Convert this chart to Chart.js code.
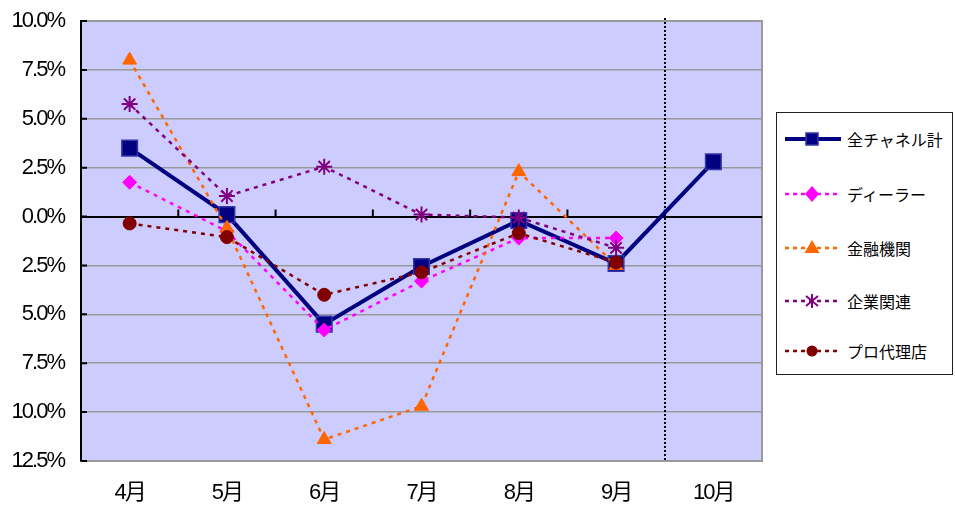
<!DOCTYPE html>
<html lang="ja">
  <head>
    <meta charset="UTF-8" />
    <title>チャネル別推移</title>
    <script src="https://cdn.jsdelivr.net/npm/chart.js"></script>
    <style>
      body {
        margin: 0;
        background: #fff;
        font-family: "Liberation Sans", Arial, "Noto Sans CJK JP", sans-serif;
      }
      .wrap {
        position: relative;
        width: 955px;
        height: 510px;
      }
      .legend {
        position: absolute;
        left: 776px;
        top: 112px;
        width: 175px;
        height: 261px;
        border: 1.5px solid #222;
        background: #fff;
      }
      .legend .item {
        position: absolute;
        left: 7px;
        height: 22px;
        display: flex;
        align-items: center;
        font-size: 16px;
        color: #000;
        white-space: nowrap;
      }
      .legend svg {
        margin-right: 5px;
      }
    </style>
  </head>
  <body>
    <div class="wrap">
      <canvas id="chart"></canvas>
      <div class="legend" id="legend"></div>
    </div>

    <script>
      // 月
      const months = ["4月", "5月", "6月", "7月", "8月", "9月", "10月"];

      // 前年比 (%)
      const total = [3.5, 0.1, -5.5, -2.55, -0.2, -2.4, 2.8];
      const dealer = [1.75, -0.75, -5.8, -3.3, -1.1, -1.1, null];
      const finance = [8.0, -0.6, -11.4, -9.7, 2.3, -2.5, null];
      const corporate = [5.75, 1.05, 2.55, 0.1, -0.05, -1.6, null];
      const agency = [-0.35, -1.05, -4.0, -2.85, -0.85, -2.35, null];

      const seriesNames = ["全チャネル計", "ディーラー", "金融機関", "企業関連", "プロ代理店"];

      // y軸の目盛
      const yMin = -12.5;
      const yMax = 10;
      const yStep = 2.5;

      const dots = [4, 5];

      const datasets = [
        {
          label: seriesNames[0],
          data: total,
          borderColor: "#000080",
          borderWidth: 4,
          pointStyle: "rect",
          pointRadius: 11,
          pointBackgroundColor: "#000080",
          pointBorderColor: "#3535aa",
          pointBorderWidth: 1.5,
          order: 5,
        },
        {
          label: seriesNames[1],
          data: dealer,
          borderColor: "#ff00ff",
          borderWidth: 2.5,
          borderDash: dots,
          pointStyle: "rectRot",
          pointRadius: 7,
          pointBackgroundColor: "#ff00ff",
          pointBorderColor: "#ff00ff",
          pointBorderWidth: 1,
          order: 4,
        },
        {
          label: seriesNames[2],
          data: finance,
          borderColor: "#ff6600",
          borderWidth: 2.5,
          borderDash: dots,
          pointStyle: "triangle",
          pointRadius: 8,
          pointBackgroundColor: "#ff6600",
          pointBorderColor: "#ff6600",
          pointBorderWidth: 1,
          order: 3,
        },
        {
          label: seriesNames[3],
          data: corporate,
          borderColor: "#800080",
          borderWidth: 2.5,
          borderDash: dots,
          pointStyle: "star",
          pointRadius: 8,
          pointBackgroundColor: "#800080",
          pointBorderColor: "#800080",
          pointBorderWidth: 2,
          order: 2,
        },
        {
          label: seriesNames[4],
          data: agency,
          borderColor: "#800000",
          borderWidth: 2.5,
          borderDash: dots,
          pointStyle: "circle",
          pointRadius: 6.5,
          pointBackgroundColor: "#800000",
          pointBorderColor: "#800000",
          pointBorderWidth: 1,
          order: 1,
        },
      ];

      // 背景・内側目盛・区切り線
      const plotDecor = {
        id: "plotDecor",
        beforeDraw(chart) {
          const { ctx, chartArea: a } = chart;
          ctx.save();
          ctx.fillStyle = "#ccccff";
          ctx.fillRect(a.left, a.top, a.right - a.left, a.bottom - a.top);
          ctx.strokeStyle = "#999";
          ctx.lineWidth = 2;
          ctx.strokeRect(a.left, a.top, a.right - a.left, a.bottom - a.top);
          ctx.restore();
          ctx.letterSpacing = "-2px";
        },
        beforeDatasetsDraw(chart) {
          const { ctx, chartArea: a } = chart;
          const x = chart.scales.x;
          const y = chart.scales.y;
          const y0 = y.getPixelForValue(0);
          ctx.save();
          ctx.strokeStyle = "#000";
          ctx.lineWidth = 2;
          ctx.beginPath();
          y.ticks.forEach((t) => {
            const py = y.getPixelForValue(t.value);
            ctx.moveTo(a.left, py);
            ctx.lineTo(a.left + 6, py);
          });
          for (let i = 0; i < months.length - 1; i++) {
            const px = (x.getPixelForValue(i) + x.getPixelForValue(i + 1)) / 2;
            ctx.moveTo(px, y0);
            ctx.lineTo(px, y0 - 7);
          }
          ctx.stroke();

          // 9月と10月の区切り
          const n = months.length;
          const sx = Math.round((x.getPixelForValue(n - 2) + x.getPixelForValue(n - 1)) / 2);
          ctx.setLineDash([2, 2]);
          ctx.beginPath();
          ctx.moveTo(sx, a.top - 3);
          ctx.lineTo(sx, a.bottom);
          ctx.stroke();
          ctx.restore();
        },
      };

      new Chart(document.getElementById("chart"), {
        type: "line",
        data: { labels: months, datasets: datasets },
        plugins: [plotDecor],
        options: {
          responsive: true,
          maintainAspectRatio: false,
          animation: false,
          spanGaps: false,
          layout: { padding: { top: 21, right: 193, left: 0, bottom: 0 } },
          plugins: {
            legend: { display: false },
            tooltip: { enabled: false },
          },
          scales: {
            x: {
              offset: true,
              grid: { display: false, drawTicks: false },
              border: { display: false },
              ticks: {
                color: "#000",
                padding: 19,
                maxRotation: 0,
                font: { size: 22, family: '"Liberation Sans", Arial, "Noto Sans CJK JP", sans-serif' },
              },
              afterFit(scale) {
                scale.height = 49;
                scale.paddingLeft = 0;
                scale.paddingRight = 0;
              },
            },
            y: {
              min: yMin,
              max: yMax,
              grid: {
                drawTicks: false,
                color: (c) => (c.tick && c.tick.value === 0 ? "#000" : "#999"),
                lineWidth: (c) => (c.tick && c.tick.value === 0 ? 2 : 1.5),
              },
              border: { display: true, color: "#000", width: 2 },
              ticks: {
                stepSize: yStep,
                color: "#000",
                padding: 17,
                font: { size: 22, family: '"Liberation Sans", Arial, sans-serif' },
                callback: (v) => Math.abs(v).toFixed(1) + "%",
              },
              afterFit(scale) {
                scale.width = 81;
                scale.paddingTop = 0;
                scale.paddingBottom = 0;
              },
            },
          },
        },
      });

      // 凡例 (HTML)
      function marker(ds) {
        const c = ds.borderColor;
        let m = "";
        if (ds.pointStyle === "rect") {
          m = `<rect x="22" y="5" width="12" height="12" fill="${c}" stroke="#3535aa" stroke-width="1.5"/>`;
        } else if (ds.pointStyle === "rectRot") {
          m = `<polygon points="28,3 35,11 28,19 21,11" fill="${c}"/>`;
        } else if (ds.pointStyle === "triangle") {
          m = `<polygon points="28,3 35.5,16 20.5,16" fill="${c}"/>`;
        } else if (ds.pointStyle === "star") {
          m = `<g stroke="${c}" stroke-width="2"><line x1="28" y1="4" x2="28" y2="18"/><line x1="22" y1="6" x2="34" y2="16"/><line x1="34" y1="6" x2="22" y2="16"/></g>`;
        } else {
          m = `<circle cx="28" cy="11" r="5.5" fill="${c}"/>`;
        }
        const dash = ds.borderDash ? `stroke-dasharray="4 4"` : "";
        return `<svg width="58" height="22"><line x1="1" y1="11" x2="57" y2="11" stroke="${c}" stroke-width="${ds.borderDash ? 2.5 : 4}" ${dash}/>${m}</svg>`;
      }

      const legendTops = [15, 70, 124, 177, 227];
      const legend = document.getElementById("legend");
      datasets.forEach((ds, i) => {
        const div = document.createElement("div");
        div.className = "item";
        div.style.top = legendTops[i] + "px";
        div.innerHTML = marker(ds) + `<span>${ds.label}</span>`;
        legend.appendChild(div);
      });
    </script>
  </body>
</html>
